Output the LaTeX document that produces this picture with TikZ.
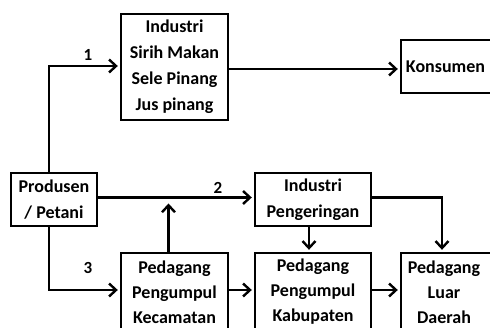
\documentclass[tikz,border=0pt]{standalone}
\usepackage{fontspec}
\setmainfont{Carlito}
\usetikzlibrary{arrows.meta}

\tikzset{
  kotak/.style={draw, line width=2.4pt, align=center, inner sep=0pt,
    font=\fontsize{18}{26}\selectfont\bfseries},
  rapat/.style={font=\fontsize{18}{25}\selectfont\bfseries},
  panah/.style={line width=2.4pt, shorten >=2pt, -{Straight Barb[length=7pt,width=13pt]}},
  angka/.style={font=\fontsize{17}{20}\selectfont\bfseries}
}

\begin{document}
\begin{tikzpicture}[x=1pt,y=-1pt]
\path[use as bounding box, clip] (0,0) rectangle (490,328);
%\draw[step=10pt,gray,very thin] (0,0) grid (490,328); %background grid

\node[kotak, minimum width=107pt, minimum height=106pt] (ind) at (174.5,67) {Industri\\Sirih Makan\\Sele Pinang\\Jus pinang};
\node[kotak, minimum width=120pt, minimum height=53pt] (kons) at (461,66.5) {\hspace*{-31pt}Konsumen};
\node[kotak, minimum width=86pt, minimum height=53pt] (prod) at (54,199.5) {Produsen\\/ Petani};
\node[kotak, minimum width=116pt, minimum height=53pt] (peng) at (313,199.5) {Industri\\Pengeringan};
\node[kotak, rapat, minimum width=107pt, minimum height=78pt] (kec) at (174.5,292) {Pedagang\\Pengumpul\\Kecamatan};
\node[kotak, rapat, minimum width=116pt, minimum height=78pt] (kab) at (313,292) {Pedagang\\Pengumpul\\Kabupaten};
\node[kotak, rapat, minimum width=120pt, minimum height=78pt] (luar) at (461,292) {\hspace*{-34pt}Pedagang\\\hspace*{-34pt}Luar\\\hspace*{-34pt}Daerah};

% jalur 1
\draw[panah] ([xshift=-5pt]prod.north) |- ([yshift=1pt]ind.west);
\draw[panah] ([yshift=-2pt]ind.east) -- ([yshift=-2.5pt]kons.west);
\node[angka] (n1) at (88,55) {1};

% jalur 2
\draw[panah] ([yshift=2pt]prod.east) -- ([yshift=2pt]peng.west);
\node[angka] (n2) at (218,188) {2};
\draw[panah] ([xshift=-6pt]kec.north) -- ([xshift=-6pt,yshift=-2pt]kec.north |- prod.east);

% jalur 3
\draw[panah] ([xshift=-5pt]prod.south) |- ([yshift=2pt]kec.west);
\node[angka] (n3) at (88,268) {3};
\draw[panah] ([yshift=2pt]kec.east) -- ([yshift=2pt]kab.west);
\draw[panah] ([yshift=2pt]kab.east) -- ([yshift=2pt]luar.west);

\draw[panah] ([xshift=-4pt]peng.south) -- ([xshift=-4pt]kab.north);
\draw[panah] ([yshift=2pt]peng.east) -| ([xshift=-19pt]luar.north);
\end{tikzpicture}
\end{document}
